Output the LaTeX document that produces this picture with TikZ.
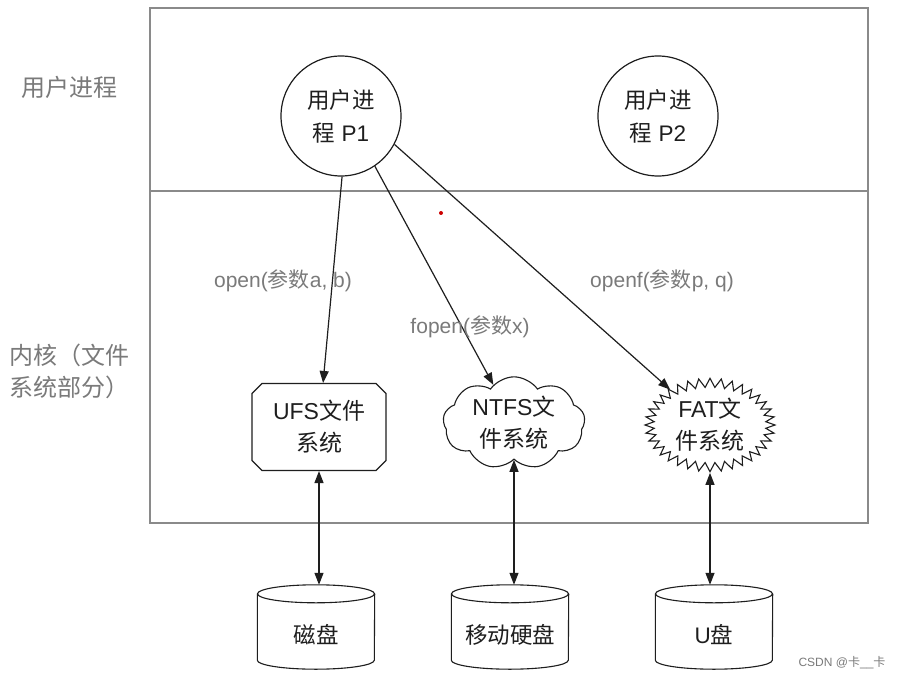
\documentclass[tikz,border=0pt]{standalone}
\usepackage{fontspec}
\setmainfont{Liberation Sans}
\newfontfamily\cjk{Noto Sans CJK SC}
\usetikzlibrary{arrows.meta,shapes.geometric,shapes.misc,shapes.symbols}
\definecolor{framegray}{HTML}{8A8A8A}
\definecolor{labelgray}{HTML}{7A7A7A}
\definecolor{inkc}{HTML}{1E1E1E}
\tikzset{
  frameline/.style={draw=framegray, line width=1.2pt},
  proc/.style={circle, draw=inkc, line width=1.2pt, minimum size=120pt, inner sep=0pt, align=center, text=inkc, font=\fontsize{22.5}{33}\selectfont},
  fsbox/.style={draw=inkc, line width=1.1pt, align=center, text=inkc, font=\fontsize{23}{32}\selectfont, inner sep=2pt},
  disk/.style={rectangle, draw=none, minimum width=117pt, minimum height=84pt, inner sep=0pt, text height=36pt, text depth=3pt, text=inkc, font=\fontsize{22.5}{26}\selectfont},
  diskline/.style={draw=inkc, line width=1.1pt},
  sidelabel/.style={text=labelgray, font=\fontsize{24}{32}\selectfont, align=left, anchor=west},
  calllabel/.style={text=labelgray, font=\fontsize{21}{24}\selectfont},
  callarrow/.style={draw=inkc, line width=1.2pt, -{Triangle[length=12pt,width=9pt]}},
  linkarrow/.style={draw=inkc, line width=1.2pt, {Triangle[length=12pt,width=9pt]}-{Triangle[length=12pt,width=9pt]}}
}
\newcommand\diskdraw[1]{%
  \draw[diskline] ([yshift=-9pt]#1.north) ellipse [x radius=58.5pt, y radius=9pt];
  \draw[diskline] ([yshift=-9pt]#1.north west) -- ([yshift=9pt]#1.south west)
     arc[start angle=180, end angle=360, x radius=58.5pt, y radius=9pt]
     -- ([yshift=-9pt]#1.north east);}
\begin{document}
\begin{tikzpicture}[x=1pt,y=-1pt]
\useasboundingbox[fill=white] (0,0) rectangle (918,679);
% frame
\draw[frameline] (150,8) rectangle (868,523);
\draw[frameline] (150,191) -- (868,191);
% side labels
\node[sidelabel] (lab1) at (18,87) {\cjk 用户进程};
\node[sidelabel] (lab2) at (6,371) {\cjk 内核（文件\\\cjk 系统部分）};
% processes
\node[proc] (p1) at (341,116) {{\cjk 用户进}\\{\cjk 程} P1};
\node[proc] (p2) at (658,116) {{\cjk 用户进}\\{\cjk 程} P2};
% file systems
\node[fsbox, chamfered rectangle, chamfered rectangle xsep=5pt, chamfered rectangle ysep=5pt, minimum width=134pt, minimum height=87pt] (ufs) at (319,427) {UFS{\cjk 文件}\\{\cjk 系统}};
\node[fsbox, cloud, cloud puffs=9, cloud puff arc=110, aspect=1.6, minimum width=142pt, minimum height=90pt, inner sep=0pt] (ntfs) at (514,423) {NTFS{\cjk 文}\\{\cjk 件系统}};
\node[fsbox, starburst, starburst points=36, starburst point height=9pt, random starburst=0, minimum width=130pt, minimum height=90pt, inner sep=0pt] (fat) at (710,425) {FAT{\cjk 文}\\{\cjk 件系统}};
% disks
\node[disk] (d1) at (316,627) {\cjk 磁盘};
\node[disk] (d2) at (510,627) {\cjk 移动硬盘};
\node[disk] (d3) at (714,627) {U{\cjk 盘}};
\diskdraw{d1}
\diskdraw{d2}
\diskdraw{d3}
% call arrows
\draw[callarrow] (p1.-89) -- (ufs);
\draw[callarrow] (p1.-56) -- (ntfs);
\draw[callarrow] (p1.-28) -- (fat);
% labels
\node[calllabel] (l1) at (283,281) {open({\cjk 参数}a, b)};
\node[calllabel] (l2) at (470,327) {fopen({\cjk 参数}x)};
\node[calllabel] (l3) at (662,281) {openf({\cjk 参数}p, q)};
% links
\draw[linkarrow] (ufs.south) -- (ufs.south |- d1.north);
\draw[linkarrow] (ntfs.south) -- (ntfs.south |- d2.north);
\draw[linkarrow] (fat.south) -- (fat.south |- d3.north);
% red dot
\fill[red!80!black] (441,213) circle (2pt);
% watermark
\node[text=labelgray, font=\fontsize{12}{14}\selectfont] (wm) at (842,663) {CSDN @{\cjk 卡}\_\_{\cjk 卡}};
\end{tikzpicture}
\end{document}
